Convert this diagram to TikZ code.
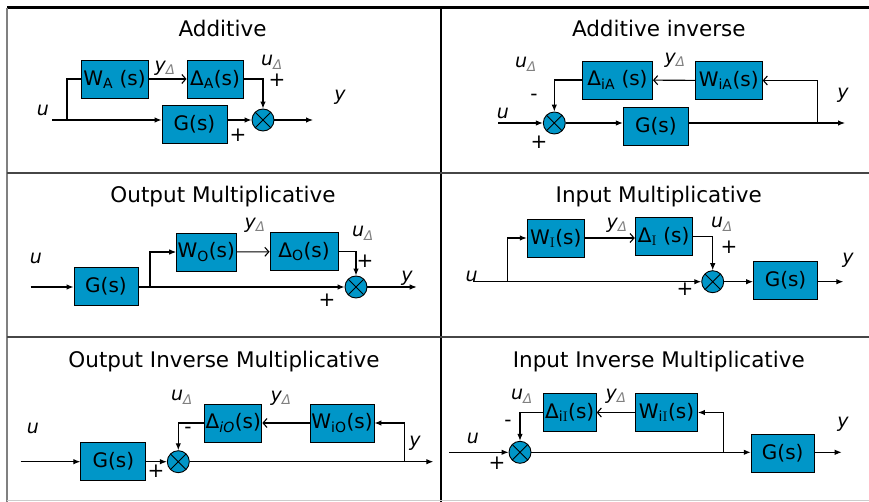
\documentclass[tikz,border=0pt]{standalone}
\usepackage{fontspec}
\newfontfamily\diagfont{DejaVu Sans}
\usetikzlibrary{arrows.meta}
\definecolor{boxblue}{RGB}{0,150,200}
\definecolor{gridgray}{RGB}{70,70,70}
\tikzset{
    % transfer function blocks
    tfbox/.style={rectangle, draw=black, fill=boxblue, line width=0.9pt,
                 minimum width=#1, minimum height=38, inner sep=1pt,
                 font=\diagfont\fontsize{20}{22}\selectfont},
    tfbox/.default=64,
    % summing junction
    sumnode/.style={circle, draw=black, fill=boxblue, line width=0.9pt,
                 minimum size=22, inner sep=0pt,
                 path picture={\draw[line width=0.9pt]
                    (path picture bounding box.north west) -- (path picture bounding box.south east)
                    (path picture bounding box.south west) -- (path picture bounding box.north east);}},
    % texts
    ttl/.style={anchor=base, font=\diagfont\fontsize{21.5}{24}\selectfont},
    sig/.style={font=\diagfont\itshape\fontsize{19}{21}\selectfont, inner sep=0pt},
    sgn/.style={font=\diagfont\fontsize{20}{22}\selectfont, inner sep=0pt},
    % connectors
    sarrow/.style={-{Latex[length=7pt,width=5.5pt]}, line width=1.1pt},
    barrow/.style={-{Straight Barb[length=4pt,width=9pt]}, line width=1.1pt},
    sline/.style={line width=1.1pt},
    gridline/.style={line width=2pt, draw=gridgray},
}

\begin{document}
\begin{tikzpicture}[x=1pt, y=-1pt]
\useasboundingbox (0,0) rectangle (869,502);

% table
\draw[line width=3pt] (7,8) -- (869,8);
\draw[gridline, draw=gray] (7,8) -- (7,502);
\draw[gridline, draw=black] (441,8) -- (441,502);
\draw[gridline] (7,173) -- (869,173);
\draw[gridline] (7,337) -- (869,337);
\draw[line width=1pt, draw=gray!40] (7,500) -- (869,500);

% Additive
\node[ttl] (t1) at (222.5,37) {Additive};
\node[tfbox=67] (wa) at (114.5,79) {W\textsubscript{A} (s)};
\node[tfbox=56] (da) at (215,79) {Δ\textsubscript{A}(s)};
\node[tfbox=65] (g1) at (194.5,124) {G(s)};
\node[sumnode] (s1) at (263,120) {};
\coordinate (in1) at (52,120);
\coordinate (br1) at (67,120);
\coordinate (out1) at (313,120);

\draw[sarrow] (in1) -- (in1 -| g1.west);
\draw[sline] (br1) |- (wa.west);
\draw[barrow] (wa) -- (da);
\draw[sarrow] (da.east) -| (s1.north);
\draw[sarrow] (g1.east |- s1) -- (s1.west);
\draw[sarrow] (s1.east) -- (out1);

\node[sig] (u1) at (43,110) {u};
\node[sig] (yd1) at (165,68) {y\textsubscript{\color{gray}Δ}};
\node[sig] (ud1) at (272,62) {u\textsubscript{\color{gray}Δ}};
\node[sgn] (p1a) at (277,80) {+};
\node[sgn] (p1b) at (238,135) {+};
\node[sig] (y1) at (340,97) {y};

% Additive inverse
\node[ttl] (t2) at (658.8,37) {Additive inverse};
\node[tfbox=70] (daa) at (617.5,80) {Δ\textsubscript{iA} (s)};
\node[tfbox=67] (wia) at (728.7,80.5) {W\textsubscript{iA}(s)};
\node[tfbox=65] (g2) at (655.8,126) {G(s)};
\node[sumnode] (s2) at (554.3,123) {};
\coordinate (in2) at (498,123);
\coordinate (br2) at (817.7,123);
\coordinate (out2) at (845,123);

\draw[sarrow] (in2) -- (s2.west);
\draw[sarrow] (s2.east) -- (s2 -| g2.west);
\draw[sarrow] (s2 -| g2.east) -- (out2);
\draw[barrow] (br2) |- (wia.east);
\draw[barrow] (wia) -- (daa);
\draw[sarrow] (daa.west) -| (s2.north);

\node[sig] (u2) at (503,113) {u};
\node[sig] (ud2) at (526,64) {u\textsubscript{\color{gray}Δ}};
\node[sig] (yd2) at (675,60) {y\textsubscript{\color{gray}Δ}};
\node[sgn] (m2) at (534,97) {-};
\node[sgn] (p2) at (539,142) {+};
\node[sig] (y2) at (843,95) {y};

% Output Multiplicative
\node[ttl] (t3) at (223,202.5) {Output Multiplicative};
\node[tfbox] (g3) at (106,286) {G(s)};
\node[tfbox=59] (wo) at (206.3,252) {W\textsubscript{O}(s)};
\node[tfbox=68] (do) at (304,251.7) {Δ\textsubscript{O}(s)};
\node[sumnode] (s3) at (356,287) {};
\coordinate (in3) at (30.7,287);
\coordinate (br3) at (150,287);
\coordinate (out3) at (416.7,287);

\draw[sarrow] (in3) -- (in3 -| g3.west);
\draw[sarrow] (s3 -| g3.east) -- (s3.west);
\draw[sarrow] (br3) |- (wo.west);
\draw[barrow] (wo) -- (do);
\draw[sarrow] (do.east) -| (s3.north);
\draw[sarrow] (s3.east) -- (out3);

\node[sig] (u3) at (36,258) {u};
\node[sig] (yd3) at (255,225) {y\textsubscript{\color{gray}Δ}};
\node[sig] (ud3) at (363,233) {u\textsubscript{\color{gray}Δ}};
\node[sgn] (p3a) at (365,261) {+};
\node[sgn] (p3b) at (327,300) {+};
\node[sig] (y3) at (407,278) {y};

% Input Multiplicative
\node[ttl] (t4) at (658.7,202.5) {Input Multiplicative};
\node[tfbox=57] (wi) at (555.7,238) {W\textsubscript{\rmfamily I}(s)};
\node[tfbox=57] (di) at (663.7,236.5) {Δ\textsubscript{\rmfamily I} (s)};
\node[sumnode] (s4) at (712.7,281.7) {};
\node[tfbox] (g4) at (785.5,280.5) {G(s)};
\coordinate (in4) at (473.3,281.7);
\coordinate (br4) at (507.7,281.7);
\coordinate (out4) at (843.3,281.7);

\draw[sarrow] (in4) -- (s4.west);
\draw[sarrow] (br4) |- (wi.west);
\draw[barrow] (wi.east) -- (wi.east -| di.west);
\draw[sarrow] (di.east) -| (s4.north);
\draw[sarrow] (s4.east) -- (s4 -| g4.west);
\draw[sarrow] (s4 -| g4.east) -- (out4);

\node[sig] (u4) at (471.7,276) {u};
\node[sig] (yd4) at (617,225) {y\textsubscript{\color{gray}Δ}};
\node[sig] (ud4) at (722,224) {u\textsubscript{\color{gray}Δ}};
\node[sgn] (p4a) at (729,247) {+};
\node[sgn] (p4b) at (685,289) {+};
\node[sig] (y4) at (848,260) {y};

% Output Inverse Multiplicative
\node[ttl] (t5) at (224,367.5) {Output Inverse Multiplicative};
\node[tfbox=65] (g5) at (113.3,461) {G(s)};
\node[sumnode] (s5) at (178.3,461.7) {};
\node[tfbox=55] (dio) at (233.3,423) {Δ\textsubscript{\itshape iO}(s)};
\node[tfbox] (wio) at (342,423) {W\textsubscript{iO}(s)};
\coordinate (in5) at (20.7,461.7);
\coordinate (br5) at (404.3,461.7);
\coordinate (out5) at (433.3,461.7);

\draw[sarrow] (in5) -- (in5 -| g5.west);
\draw[sarrow] (s5 -| g5.east) -- (s5.west);
\draw[sarrow] (s5.east) -- (out5);
\draw[sarrow] (br5) |- (wio.east);
\draw[barrow] (wio) -- (dio);
\draw[sarrow] (dio.west) -| (s5.north);

\node[sig] (u5) at (33,428) {u};
\node[sig] (ud5) at (182,397) {u\textsubscript{\color{gray}Δ}};
\node[sig] (yd5) at (281,398) {y\textsubscript{\color{gray}Δ}};
\node[sgn] (m5) at (188,430) {-};
\node[sgn] (p5) at (156,471) {+};
\node[sig] (y5) at (415,443) {y};

% Input Inverse Multiplicative
\node[ttl] (t6) at (658.8,367.5) {Input Inverse Multiplicative};
\node[tfbox=53] (dii) at (569.7,412.5) {Δ\textsubscript{i\rmfamily I}(s)};
\node[tfbox=62] (wii) at (666.5,412.5) {W\textsubscript{i\rmfamily I}(s)};
\node[sumnode] (s6) at (520,452.3) {};
\node[tfbox=63] (g6) at (782.7,453) {G(s)};
\coordinate (in6) at (449.3,452.3);
\coordinate (br6) at (723.3,452.3);
\coordinate (out6) at (841.7,452.3);

\draw[sarrow] (in6) -- (s6.west);
\draw[sarrow] (s6.east) -- (s6 -| g6.west);
\draw[sarrow] (s6 -| g6.east) -- (out6);
\draw[sarrow] (br6) |- (wii.east);
\draw[barrow] (wii) -- (dii);
\draw[sarrow] (dii.west) -| (s6.north);

\node[sig] (ud6) at (522,396) {u\textsubscript{\color{gray}Δ}};
\node[sig] (yd6) at (616,396) {y\textsubscript{\color{gray}Δ}};
\node[sgn] (m6) at (508,423) {-};
\node[sig] (u6) at (473,438) {u};
\node[sgn] (p6) at (497,463) {+};
\node[sig] (y6) at (843,424) {y};
\end{tikzpicture}
\end{document}
